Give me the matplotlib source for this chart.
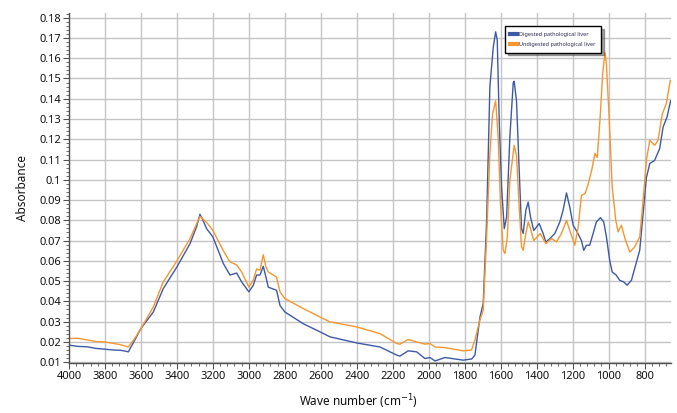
import matplotlib
matplotlib.use("Agg")
import matplotlib.pyplot as plt
from matplotlib.ticker import MultipleLocator, FuncFormatter, AutoMinorLocator

plt.rcParams['font.family'] = ['Noto Sans', 'DejaVu Sans']

# digested pathological liver (blue)
wn_dig = [4000, 3950, 3900, 3850, 3800, 3750, 3716, 3690, 3670, 3640,
          3600, 3531, 3476, 3400, 3327, 3290, 3272, 3260, 3235, 3200,
          3142, 3105, 3068, 3040, 3000, 2975, 2957, 2938, 2920, 2905,
          2892, 2846, 2827, 2800, 2698, 2605, 2549, 2400, 2271, 2178,
          2160, 2114, 2067, 2021, 1993, 1965, 1910, 1808, 1761, 1743,
          1715, 1697, 1678, 1660, 1641, 1628, 1619, 1608, 1595, 1580,
          1567, 1549, 1530, 1525, 1512, 1497, 1484, 1475, 1460, 1447,
          1434, 1416, 1386, 1364, 1349, 1326, 1299, 1271, 1253, 1234,
          1216, 1197, 1175, 1151, 1138, 1123, 1105, 1086, 1068, 1045,
          1027, 1012, 994, 980, 958, 938, 916, 897, 873, 855,
          827, 808, 790, 771, 744, 716, 697, 675, 655]
abs_dig = [0.0184, 0.0178, 0.0176, 0.0168, 0.0164, 0.0160, 0.0159, 0.0155, 0.0151, 0.0200,
           0.0266, 0.0348, 0.0463, 0.0570, 0.0685, 0.0770, 0.0830, 0.0810, 0.0759, 0.0718,
           0.0587, 0.0530, 0.0540, 0.0496, 0.0447, 0.0480, 0.0530, 0.0530, 0.0573, 0.0520,
           0.0470, 0.0455, 0.0380, 0.0348, 0.0290, 0.0250, 0.0225, 0.0195, 0.0175, 0.0135,
           0.0130, 0.0156, 0.0151, 0.0118, 0.0123, 0.0106, 0.0123, 0.0110, 0.0116, 0.0135,
           0.0323, 0.0390, 0.0800, 0.1460, 0.1655, 0.1730, 0.1690, 0.1290, 0.0964, 0.0759,
           0.0816, 0.1210, 0.1480, 0.1486, 0.1390, 0.1047, 0.0759, 0.0735, 0.0850, 0.0890,
           0.0816, 0.0750, 0.0784, 0.0735, 0.0693, 0.0710, 0.0735, 0.0792, 0.0850, 0.0935,
           0.0866, 0.0776, 0.0743, 0.0700, 0.0652, 0.0677, 0.0677, 0.0735, 0.0792, 0.0813,
           0.0792, 0.0718, 0.0603, 0.0545, 0.0530, 0.0504, 0.0496, 0.0480, 0.0504, 0.0562,
           0.0652, 0.0833, 0.1010, 0.1080, 0.1096, 0.1154, 0.1260, 0.1310, 0.1390]

# undigested pathological liver (orange)
wn_und = [4000, 3950, 3900, 3850, 3800, 3750, 3716, 3690, 3670, 3640,
          3600, 3531, 3476, 3400, 3327, 3272, 3235, 3200, 3142, 3105,
          3068, 3040, 3000, 2975, 2957, 2938, 2920, 2905, 2892, 2846,
          2827, 2800, 2698, 2605, 2549, 2400, 2271, 2178, 2160, 2114,
          2067, 2021, 1993, 1965, 1910, 1808, 1762, 1743, 1715, 1697,
          1678, 1660, 1645, 1628, 1614, 1601, 1586, 1576, 1563, 1549,
          1525, 1512, 1497, 1484, 1475, 1460, 1447, 1434, 1416, 1380,
          1349, 1317, 1290, 1262, 1234, 1216, 1188, 1169, 1151, 1131,
          1113, 1094, 1076, 1063, 1048, 1033, 1020, 1012, 997, 980,
          960, 947, 929, 909, 882, 855, 827, 808, 790, 771,
          744, 725, 701, 679, 657]
abs_und = [0.0217, 0.0218, 0.0210, 0.0202, 0.0200, 0.0192, 0.0187, 0.0180, 0.0175, 0.0210,
           0.0266, 0.0373, 0.0496, 0.0600, 0.0710, 0.0820, 0.0790, 0.0750, 0.0650, 0.0595,
           0.0580, 0.0545, 0.0470, 0.0505, 0.0560, 0.0554, 0.0630, 0.0570, 0.0545, 0.0520,
           0.0447, 0.0414, 0.0365, 0.0323, 0.0299, 0.0274, 0.0241, 0.0192, 0.0189, 0.0212,
           0.0200, 0.0189, 0.0192, 0.0175, 0.0172, 0.0156, 0.0160, 0.0210, 0.0310, 0.0356,
           0.0718, 0.1130, 0.1326, 0.1390, 0.1210, 0.0883, 0.0652, 0.0636, 0.0718, 0.0997,
           0.1170, 0.1120, 0.0866, 0.0669, 0.0652, 0.0735, 0.0792, 0.0759, 0.0700, 0.0735,
           0.0685, 0.0710, 0.0693, 0.0735, 0.0800, 0.0750, 0.0677, 0.0767, 0.0923, 0.0932,
           0.0980, 0.1047, 0.1130, 0.1110, 0.1293, 0.1520, 0.1630, 0.1570, 0.1310, 0.0964,
           0.0800, 0.0743, 0.0776, 0.0710, 0.0643, 0.0669, 0.0718, 0.0899, 0.1096, 0.1195,
           0.1170, 0.1195, 0.1326, 0.1376, 0.1490]

BLUE = "#3D5AA6"
ORANGE = "#F5962F"
AXC = "#505050"

fig = plt.figure(figsize=(6.77, 4.13), dpi=100)
ax = fig.add_axes([69 / 677, 1 - 363 / 413, (671 - 69) / 677, (363 - 13) / 413])

ax.plot(wn_dig, abs_dig, color=BLUE, lw=1.0, label="Digested pathological liver")
ax.plot(wn_und, abs_und, color=ORANGE, lw=1.0, label="Undigested pathological liver")

ax.set_xlim(4000, 653)
ax.set_ylim(0.0096, 0.1823)
ax.xaxis.set_major_locator(MultipleLocator(200))
ax.xaxis.set_minor_locator(AutoMinorLocator(5))
ax.yaxis.set_major_locator(MultipleLocator(0.01))
ax.yaxis.set_minor_locator(AutoMinorLocator(5))
ax.yaxis.set_major_formatter(FuncFormatter(lambda v, _: f"{v:.2f}".rstrip("0")))
ax.xaxis.set_major_formatter(FuncFormatter(lambda v, _: f"{v:.0f}"))

ax.grid(True, which="major", color="#C4C4C4", lw=1.0)
ax.set_axisbelow(True)
for s in ("top", "right"):
    ax.spines[s].set_visible(False)
for s in ("left", "bottom"):
    ax.spines[s].set_color(AXC)
    ax.spines[s].set_linewidth(1.0)
ax.tick_params(which="major", length=4, width=0.8, color=AXC, labelsize=8, labelcolor="#111111", pad=1.5)
ax.tick_params(which="minor", length=2, width=0.6, color=AXC)

ax.set_xlabel("Wave number (cm$^{-1}$)", fontsize=8.5, color="#111111")
ax.set_ylabel("Absorbance", fontsize=8.5, color="#111111")
ax.xaxis.set_label_coords(0.48, -0.083)
ax.yaxis.set_label_coords(-0.067, 0.5)

leg = ax.legend(loc="upper left", bbox_to_anchor=(0.724, 0.962), borderaxespad=0,
                fontsize=4.0, frameon=True, fancybox=False, shadow=True,
                handlelength=1.2, handletextpad=0.35, borderpad=1.0, labelspacing=0.95)
leg.get_frame().set_edgecolor("black")
leg.get_frame().set_linewidth(1.0)
for h in leg.legend_handles:
    h.set_linewidth(3)
for t in leg.get_texts():
    t.set_color("#2A2850")

fig.savefig("out.png", dpi=100)
